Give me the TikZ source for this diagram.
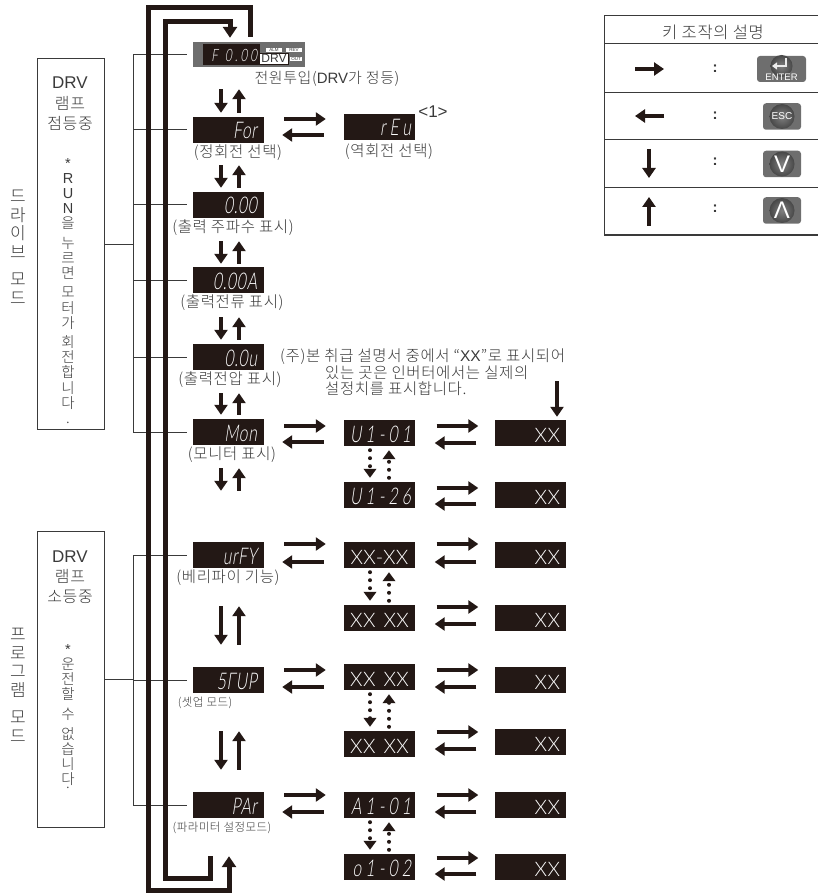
\documentclass[tikz,border=0pt]{standalone}
\usepackage{fontspec}
\usetikzlibrary{calc,arrows.meta}
\setmainfont{Liberation Sans}
\newfontfamily\kr[LetterSpace=4]{Noto Sans CJK KR Light}
\newfontfamily\ledfont[FakeSlant=0.15,FakeStretch=0.68,LetterSpace=3]{Lato Light}
\newfontfamily\ledwide[FakeSlant=0.15,FakeStretch=0.68,LetterSpace=18]{Lato Light}
\newfontfamily\xxfont[LetterSpace=2]{Lato Light}
\newcommand{\lat}[1]{{\rmfamily #1}}
\newcommand{\fs}[1]{\fontsize{#1}{#1}\selectfont}
\newcommand{\fsb}[2]{\fontsize{#1}{#2}\selectfont}
\definecolor{ink}{HTML}{3A3A3A}
\definecolor{panel}{HTML}{6E6E6E}
\definecolor{lcd}{HTML}{231815}
\tikzset{
  fatarrow/.style={line width=4.6pt, lcd, -{Triangle[length=10pt,width=13pt]}},
  dotarrow/.style={line width=4pt, lcd, line cap=round, dash pattern=on 0pt off 8pt, -{Triangle[length=9pt,width=12.5pt]}},
  loopline/.style={line width=5pt, lcd, miter limit=10},
  bus/.style={line width=1pt, ink},
  screen/.style={fill=lcd, text=white, font=\ledfont\fs{23}, text width=57pt, align=right, inner xsep=7pt, inner ysep=4pt, text height=18pt, text depth=0pt},
  screenwide/.style={screen, font=\ledwide\fs{23}, text width=63pt, inner xsep=4pt},
  xxbox/.style={screen, font=\xxfont\fs{20}, text width=59pt, inner xsep=6pt},
  xxmid/.style={xxbox, align=center, text width=67pt, inner xsep=2pt},
  screencap/.style={font=\kr\fs{15.5}, text=ink, inner sep=0pt},
  lampbox/.style={draw=ink, line width=1pt, minimum width=67pt, inner sep=0pt},
  lamptext/.style={font=\kr\fsb{14.5}{15.1}, text=ink, align=center, inner sep=0pt, anchor=north},
  sidetext/.style={font=\kr\fsb{17}{18.5}, text=ink, align=center, inner sep=0pt, anchor=north},
  keybtn/.style={fill=panel, rounded corners=3pt, inner sep=0pt},
  keyball/.style={inner color=black!50, outer color=black!72},
  tinybox/.style={fill=white, text=ink, font=\fs{4.5}, inner sep=0pt, minimum height=4.5pt},
}
% key pairs between neighbouring screens
\newcommand{\swapkeys}[5][0pt]{
  \draw[fatarrow, shorten <=20pt, shorten >=18pt] ([xshift=#1,yshift=#4pt]#2.east) -- ([xshift=#1,yshift=#4pt]#2.east -| #3.west);
  \draw[fatarrow, shorten <=20pt, shorten >=18pt] ([xshift=#1,yshift=#5pt]#2.east -| #3.west) -- ([xshift=#1,yshift=#5pt]#2.east);
}
\newcommand{\updown}[4]{
  \draw[fatarrow, shorten <=#3pt, shorten >=#4pt] ([xshift=-7.5pt]#2.north |- #1.south) -- ([xshift=-7.5pt]#2.north);
  \draw[fatarrow, shorten <=#4pt, shorten >=#3pt] ([xshift=10.5pt]#2.north) -- ([xshift=10.5pt]#2.north |- #1.south);
}
\newcommand{\dotkeys}[2]{
  \draw[dotarrow, shorten <=4pt, shorten >=4pt] ([xshift=-9.5pt]#1.south) -- ([xshift=-9.5pt]#2.north);
  \draw[dotarrow, shorten <=4pt, shorten >=4pt] ([xshift=9.5pt]#2.north) -- ([xshift=9.5pt]#1.south);
}
\begin{document}
\begin{tikzpicture}[x=1pt, y=-1pt]
  \useasboundingbox (0,0) rectangle (818,893);
  % power-on panel
  \node[fill=panel, minimum width=112pt, minimum height=25pt, inner sep=0pt] (dF) at (249,54.5) {};
  \node[screen, font=\ledwide\fs{17}, text width=51pt, inner xsep=3pt, inner ysep=3pt, text height=15pt] (dFlcd) at (231.5,54.5) {F\hspace{7pt}0.00};
  \node[tinybox, minimum width=16pt] (dAlm) at (274,50) {ALM};
  \node[tinybox, minimum width=16pt] (dRv) at (294,50) {REV};
  \node[tinybox, minimum width=12pt] (dOut) at (296,59) {OUT};
  \node[draw=lcd, fill=white, text=ink, font=\fs{12}, minimum width=29pt, minimum height=10.5pt, inner sep=0pt] (dDrv) at (274,58.5) {DRV};
  % screens of the left and the middle column
  \foreach \id/\y/\txt in {dFor/130/For, dOutHz/205/0.00, dCur/280/0.00A, dVol/357/0.0u, dMon/432/Mon,
      dVer/555/urFY, dSet/680/5ΓUP, dPar/805/PAr} {
    \node[screen] (\id) at (228.5,\y) {\txt};
  }
  \foreach \id/\y/\txt in {dRev/127/rEu, dUone/433/U1-01, dUtwo/495/U1-26, dAone/805/A1-01, dOone/867/o1-02} {
    \node[screenwide] (\id) at (379.5,\y) {\mbox{\txt}};
  }
  \node[xxmid] (mA) at (379.5,555) {\mbox{XX-XX}};
  \node[xxmid] (mB) at (379.5,618) {XX\hspace{8pt}XX};
  \node[xxmid] (mC) at (379.5,677) {XX\hspace{8pt}XX};
  \node[xxmid] (mD) at (379.5,744) {XX\hspace{8pt}XX};
  \foreach \id/\y in {xA/433, xB/495, xC/555, xD/618, xE/680, xF/742, xG/805, xH/867} {
    \node[xxbox] (\id) at (530.5,\y) {XX};
  }
  % captions
  \node[screencap, font=\kr\fs{15}] (capPow) at (327,79) {전원투입(\lat{DRV}가 정등)};
  \node[screencap, font=\rmfamily\fs{17}] (capOne) at (433,112) {<1>};
  \node[screencap] (capFor) at (238,153) {(정회전 선택)};
  \node[screencap] (capRev) at (389,152) {(역회전 선택)};
  \node[screencap] (capHz) at (233,228) {(출력 주파수 표시)};
  \node[screencap] (capCur) at (232,303) {(출력전류 표시)};
  \node[screencap] (capVol) at (230,380) {(출력전압 표시)};
  \node[screencap] (capMon) at (232,455) {(모니터 표시)};
  \node[screencap] (capVer) at (228,578) {(베리파이 기능)};
  \node[screencap, font=\kr\fs{11.5}] (capSet) at (205,703) {(셋업 모드)};
  \node[screencap, font=\kr\fs{11.5}] (capPar) at (222,828) {(파라미터 설정모드)};
  \node[screencap, anchor=west] (noteA) at (280,357) {(주)본 취급 설명서 중에서 “\lat{XX}”로 표시되어};
  \node[screencap, anchor=west] (noteB) at (325,373) {있는 곳은 인버터에서는 실제의};
  \node[screencap, anchor=west] (noteC) at (325,389) {설정치를 표시합니다.};
  % lamp boxes
  \node[lampbox, minimum height=370pt] (lampDrv) at (70.5,244) {};
  \node[lampbox, minimum height=296pt] (lampPrg) at (70.5,679) {};
  \node[font=\rmfamily\fs{17}, text=ink, inner sep=0pt] (lampDrvA) at (70,83) {DRV};
  \node[font=\kr\fs{16}, text=ink, inner sep=0pt] (lampDrvB) at (70,103) {램프};
  \node[font=\kr\fs{16}, text=ink, inner sep=0pt] (lampDrvC) at (70,123) {점등중};
  \node[lamptext] (lampDrvD) at (68,158) {\lat{*}\\\lat{R}\\\lat{U}\\\lat{N}\\을\\[4.5pt]누\\르\\면\\[4.5pt]모\\터\\가\\[4.5pt]회\\전\\합\\니\\다\\.};
  \node[font=\rmfamily\fs{17}, text=ink, inner sep=0pt] (lampPrgA) at (70,557) {DRV};
  \node[font=\kr\fs{16}, text=ink, inner sep=0pt] (lampPrgB) at (70,576) {램프};
  \node[font=\kr\fs{16}, text=ink, inner sep=0pt] (lampPrgC) at (70,597) {소등중};
  \node[lamptext] (lampPrgD) at (68,644) {\lat{*}\\운\\전\\할\\[5pt]수\\[5pt]없\\습\\니\\다};
  \node[font=\kr\fs{14.5}, text=ink, inner sep=0pt, anchor=north] (lampPrgE) at (68,786.5) {.};
  \node[sidetext] (sideDrv) at (18,190) {드\\라\\이\\브\\[9pt]모\\드};
  \node[sidetext] (sidePrg) at (18,628) {프\\로\\그\\램\\[9pt]모\\드};
  % thin ladders to the lamp boxes
  \coordinate (busDrv) at (133,244);
  \coordinate (busPrg) at (133,679);
  \draw[bus] (busDrv |- dF.west) -- (busDrv |- dMon.west);
  \draw[bus] (busPrg |- dVer.west) -- (busPrg |- dPar.west);
  \draw[bus] (lampDrv.east) -- (busDrv);
  \draw[bus] (lampPrg.east) -- (busPrg);
  \foreach \s in {dF,dFor,dOutHz,dCur,dVol,dMon} \draw[bus, shorten >=6pt] (busDrv |- \s.west) -- (\s.west);
  \foreach \s in {dVer,dSet,dPar} \draw[bus, shorten >=6pt] (busPrg |- \s.west) -- (\s.west);
  % the two thick return loops
  \coordinate (loopOut) at ([xshift=0.5pt,yshift=-38pt]dPar.south);
  \coordinate (loopIn) at ([xshift=-18.5pt,yshift=-38pt]dPar.south);
  \draw[loopline, -{Triangle[length=11pt,width=14pt]}] ([xshift=1pt,yshift=5pt]dF.north) -- (250,8) -- (148,8) -- (148,890) -- (229,890) -- (loopOut);
  \draw[loopline, -{Triangle[length=11pt,width=14pt]}] (loopIn) -- (210,878) -- (165,878) -- (165,22) -- (230,22) -- ([xshift=-19pt,yshift=4pt]dF.north);
  % up and down keys
  \updown{dF}{dFor}{22}{4}
  \updown{dFor}{dOutHz}{22}{4}
  \updown{dOutHz}{dCur}{23}{3}
  \updown{dCur}{dVol}{24}{4}
  \updown{dVol}{dMon}{23}{4}
  \updown{dMon}{dVer}{23}{51}
  \updown{dVer}{dSet}{38}{22}
  \updown{dSet}{dPar}{38}{22}
  \dotkeys{dUone}{dUtwo}
  \dotkeys{mA}{mB}
  \dotkeys{mC}{mD}
  \dotkeys{dAone}{dOone}
  % enter and esc keys
  \swapkeys{dFor}{dRev}{11}{-5}
  \swapkeys{dMon}{dUone}{6}{-10}
  \swapkeys{dVer}{mA}{11}{-7}
  \swapkeys{dSet}{mC}{10}{-7}
  \swapkeys{dPar}{dAone}{10}{-7}
  \swapkeys[1.5pt]{dUone}{xA}{7}{-10}
  \swapkeys[1.5pt]{dUtwo}{xB}{7}{-9}
  \swapkeys[1.5pt]{mA}{xC}{11}{-7}
  \swapkeys[1.5pt]{mB}{xD}{11}{-6}
  \swapkeys[1.5pt]{mC}{xE}{7}{-10}
  \swapkeys[1.5pt]{mD}{xF}{12}{-5}
  \swapkeys[1.5pt]{dAone}{xG}{10}{-7}
  \swapkeys[1.5pt]{dOone}{xH}{9}{-7}
  \coordinate (noteTail) at (557,381);
  \draw[fatarrow] (noteTail) -- ([xshift=26.5pt,yshift=3pt]xA.north);
  % legend of the keys
  \draw[bus] (818,16) -- (604,16) -- (604,235) -- (818,235);
  \foreach \y in {44,93,140,188} \draw[bus] (604,\y) -- (818,\y);
  \node[screencap, font=\kr\fs{16.5}] (keyHead) at (713,32) {키 조작의 설명};
  \foreach \id/\y in {kA/69, kB/116, kC/162, kD/209} \node[font=\rmfamily\bfseries\fs{15}, text=ink, inner sep=0pt] (\id) at (715,\y) {:};
  \coordinate (lgRa) at (635,69);  \coordinate (lgRb) at (664,69);
  \coordinate (lgLa) at (635,116); \coordinate (lgLb) at (664,116);
  \coordinate (lgDa) at (649,149); \coordinate (lgDb) at (649,178);
  \coordinate (lgUa) at (649,197); \coordinate (lgUb) at (649,226);
  \draw[fatarrow] (lgRa) -- (lgRb);
  \draw[fatarrow] (lgLb) -- (lgLa);
  \draw[fatarrow] (lgDa) -- (lgDb);
  \draw[fatarrow] (lgUb) -- (lgUa);
  \node[keybtn, minimum width=49pt, minimum height=26pt] (btnEnter) at (781.5,69) {};
  \foreach \id/\y in {btnEsc/116.5, btnDown/164, btnUp/210.5} \node[keybtn, minimum width=38pt, minimum height=26.5pt] (\id) at (782,\y) {};
  \shade[keyball] (781.5,66) circle (11pt);
  \foreach \y in {116.5,164,210.5} \shade[keyball] (782,\y) circle (12.5pt);
  \draw[white!85!gray, line width=2pt, -{Triangle[length=5pt,width=7pt]}] (786,58) -- (786,66) -- (772,66);
  \node[text=white, font=\rmfamily\fs{9.5}, inner sep=0pt] (txtEnter) at (781.5,77) {ENTER};
  \node[text=white, font=\rmfamily\fs{10}, inner sep=0pt] (txtEsc) at (782,116.5) {ESC};
  \node[text=white, font=\rmfamily\fs{24}, inner sep=0pt] (txtDown) at (782,164) {V};
  \node[text=white, font=\rmfamily\fs{24}, inner sep=0pt] (txtUp) at (782,210.5) {Λ};
\end{tikzpicture}
\end{document}
